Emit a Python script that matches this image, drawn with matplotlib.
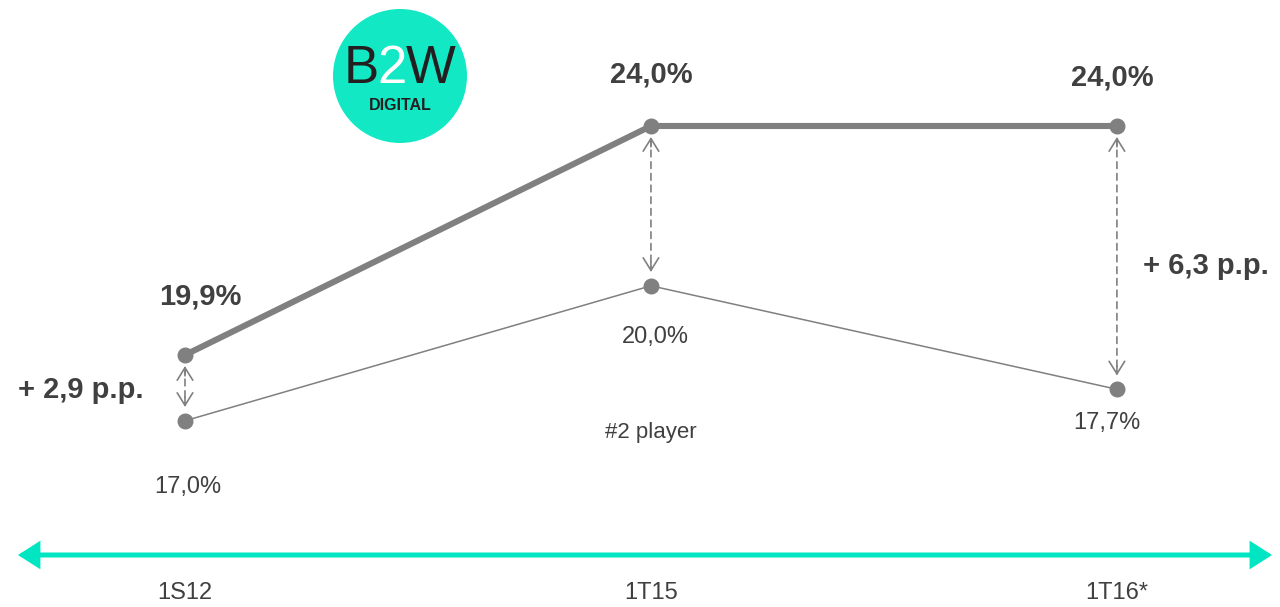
import matplotlib.pyplot as plt
from matplotlib.patches import Circle

plt.rcParams['font.family'] = ['Liberation Sans', 'DejaVu Sans']

# data
periods = ['1S12', '1T15', '1T16*']
b2w_share = [19.9, 24.0, 24.0]
player2_share = [17.0, 20.0, 17.7]
player2_name = '#2 player'
gap_shown = [True, False, True]

GRAY = '#808080'
TEXT = '#404040'
TEAL = '#00E6C2'


def pct(v):
    return f'{v:.1f}%'.replace('.', ',')


fig = plt.figure(figsize=(12.8, 6.07), dpi=100)
ax1 = fig.add_axes([0, 0, 1, 1])
ax2 = fig.add_axes([0, 0, 1, 1], sharex=ax1)
ax2.patch.set_alpha(0)
for a in (ax1, ax2):
    a.axis('off')

x = list(range(len(periods)))
ax1.set_xlim(-0.397, 2.35)
ax1.set_ylim(15.388, 26.256)
ax2.set_ylim(12.862, 26.351)

ax1.plot(x, b2w_share, color=GRAY, lw=4.4, marker='o', ms=10.5, solid_capstyle='round')
ax2.plot(x, player2_share, color=GRAY, lw=1.1, marker='o', ms=10.5)

# value labels
up_off = [(11, 42), (0, 37), (-3, 35)]
low_off = [(2, -48), (3, -37), (-7, -24)]
for i, v in enumerate(b2w_share):
    ax1.annotate(pct(v), xy=(x[i], v), xytext=up_off[i], textcoords='offset points',
                 ha='center', va='center', fontsize=21, fontweight='bold', color=TEXT)
for i, v in enumerate(player2_share):
    ax2.annotate(pct(v), xy=(x[i], v), xytext=low_off[i], textcoords='offset points',
                 ha='center', va='center', fontsize=17, color=TEXT)

# gap arrows
head = '->,head_width=0.28,head_length=0.45'
for i in x:
    up, low = b2w_share[i], player2_share[i]
    ax1.annotate('', xy=(i, low), xycoords=ax2.transData, xytext=(i, up), textcoords=ax1.transData,
                 arrowprops=dict(arrowstyle='-', ls=(0, (4, 3)), lw=1.2, color=GRAY,
                                 shrinkA=9, shrinkB=11))
    ax1.annotate('', xy=(i, up), xycoords=ax1.transData, xytext=(0, -15), textcoords='offset points',
                 arrowprops=dict(arrowstyle=head, lw=1.2, color=GRAY, shrinkA=0, shrinkB=8,
                                 mutation_scale=20))
    ax1.annotate('', xy=(i, low), xycoords=ax2.transData, xytext=(0, 17), textcoords='offset points',
                 arrowprops=dict(arrowstyle=head, lw=1.2, color=GRAY, shrinkA=0, shrinkB=10,
                                 mutation_scale=20))

gap_off = [(-30, -25, 'right'), None, (19, -101, 'left')]
for i in x:
    if not gap_shown[i]:
        continue
    d = b2w_share[i] - player2_share[i]
    dx, dy, ha = gap_off[i]
    ax1.annotate('+ ' + f'{d:.1f}'.replace('.', ',') + ' p.p.', xy=(i, b2w_share[i]),
                 xytext=(dx, dy), textcoords='offset points', ha=ha, va='center',
                 fontsize=21, fontweight='bold', color=TEXT)

ax1.text(1, 0.288, player2_name, transform=ax1.get_xaxis_transform(),
         ha='center', va='center', fontsize=16, color=TEXT)

# timeline
ax1.annotate('', xy=(18 / 1280, 52 / 607), xycoords='figure fraction',
             xytext=(1272 / 1280, 52 / 607), textcoords='figure fraction',
             arrowprops=dict(arrowstyle='<|-|>,head_width=0.32,head_length=0.5', lw=3.6,
                             color=TEAL, shrinkA=0, shrinkB=0, mutation_scale=22,
                             joinstyle='miter'))
for i, p in enumerate(periods):
    ax1.text(x[i], 0.023, p, transform=ax1.get_xaxis_transform(),
             ha='center', va='center', fontsize=17, color=TEXT)

# logo
lax = fig.add_axes([333 / 1280, 464 / 607, 134 / 1280, 134 / 607])
lax.axis('off')
lax.set_xlim(0, 1)
lax.set_ylim(0, 1)
lax.add_patch(Circle((0.5, 0.5), 0.5, color='#13E8C4', lw=0))
for ch, cx, col in [('B', 361, '#231F20'), ('2', 392, 'white'), ('W', 431, '#231F20')]:
    fig.text(cx / 1280, (607 - 69) / 607, ch, ha='center', va='center',
             fontsize=38, color=col)
fig.text(400 / 1280, (607 - 106) / 607, 'DIGITAL', ha='center', va='center',
         fontsize=11.5, fontweight='bold', color='#231F20')

fig.savefig('out.png', dpi=100)
